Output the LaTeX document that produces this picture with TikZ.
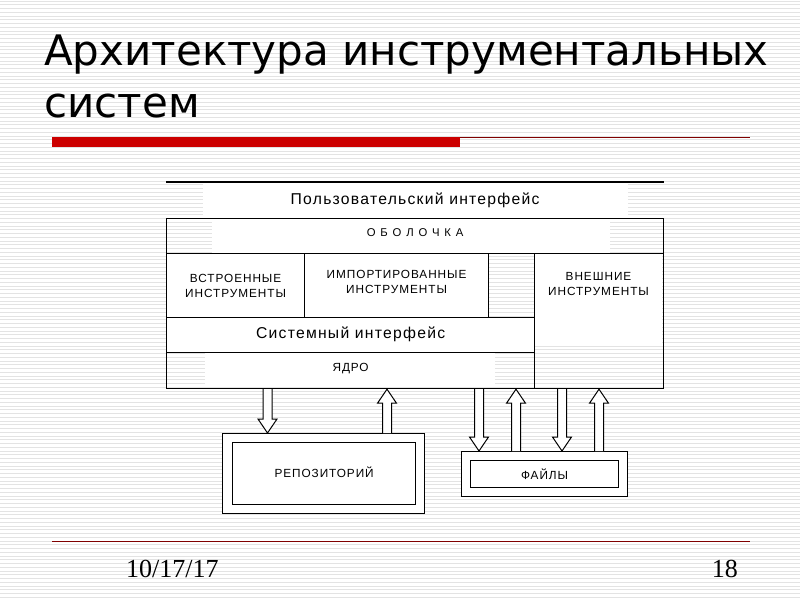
\documentclass[tikz,border=0pt]{standalone}
\usepackage{fontspec}
\setmainfont{Liberation Serif}
\newfontfamily\titlefont{DejaVu Sans}
\newfontfamily\boxfont[LetterSpace=8]{Liberation Sans}
\usetikzlibrary{calc}

\definecolor{barred}{HTML}{CC0000}
\definecolor{linered}{HTML}{800000}

% hollow block arrow, #1 = base, #2 = tip (vertical only)
\newcommand\blockarrow[2]{%
  \draw[blockarrow] let \p1=#1, \p2=#2, \n1={sign(\y2-\y1)} in
    (\x1-4.5pt,\y1) -- (\x1-4.5pt,\y2-14pt*\n1) -- (\x1-9.5pt,\y2-14pt*\n1)
    -- (\x1,\y2) -- (\x1+9.5pt,\y2-14pt*\n1) -- (\x1+4.5pt,\y2-14pt*\n1)
    -- (\x1+4.5pt,\y1);}

\begin{document}
\begin{tikzpicture}[x=1pt, y=-1pt,
    stripe/.style={draw=gray!22, line width=0.9pt},
    box/.style={draw, line width=1.2pt, inner sep=0pt, align=center, anchor=north west},
    bigtext/.style={font=\boxfont\fontsize{15.7}{18}\selectfont},
    smalltext/.style={font=\boxfont\fontsize{11.8}{15}\selectfont},
    titletext/.style={anchor=base west, inner sep=0pt, font=\titlefont\fontsize{42}{50}\selectfont},
    foottext/.style={inner sep=0pt, font=\fontsize{26}{30}\selectfont},
    blockarrow/.style={draw, fill=white, line width=1pt, line join=miter}]
  \useasboundingbox (0,0) rectangle (800,600);
  % background
  \foreach \k in {0,...,160}
    \draw[stripe] (0,\k*3.75+1) -- (800,\k*3.75+1);

  % title
  \node[titletext] (title) at (44,65) {Архитектура инструментальных};
  \node[titletext] (title2) at (44,117) {систем};
  \fill[barred] (52,137) rectangle (460,147);
  \draw[linered, line width=1pt] (460,137.5) -- (750,137.5);

  % white patches under the labels
  \fill[white] (212,219) rectangle (610,253);
  \fill[white] (535,254) rectangle (662,345);
  \fill[white] (205,353) rectangle (495,387);

  % layers
  \node[box, draw=none, fill=white, minimum width=425, minimum height=35, text depth=2pt, bigtext] (ui) at (202,182) {Пользовательский интерфейс};
  \node[box, minimum width=497, minimum height=35, text depth=7pt, font=\boxfont\fontsize{11.3}{12}\selectfont\addfontfeature{LetterSpace=15}] (shell) at (166,218) {О Б О Л О Ч К А};
  \draw[line width=1.2pt] (ui.north -| shell.west) -- (ui.north -| shell.east);
  \node[box, fill=white, minimum width=138, minimum height=64, smalltext] (builtin) at (166,253) {ВСТРОЕННЫЕ\\ИНСТРУМЕНТЫ};
  \node[box, fill=white, minimum width=184, minimum height=64, text depth=8pt, smalltext] (imported) at (304,253) {ИМПОРТИРОВАННЫЕ\\ИНСТРУМЕНТЫ};
  \node[box, minimum width=129, minimum height=135] (external) at (534,253) {};
  \node[smalltext, align=center] (externaltext) at (598.5,283.5) {ВНЕШНИЕ\\ИНСТРУМЕНТЫ};
  \node[box, fill=white, minimum width=368, minimum height=35, text depth=4pt, bigtext] (sysif) at (166,317) {Системный интерфейс};
  \node[box, minimum width=368, minimum height=36, text depth=6pt, smalltext] (kernel) at (166,352) {ЯДРО};

  % storage
  \node[box, fill=white, minimum width=202, minimum height=80] (repoframe) at (222,433) {};
  \node[box, minimum width=183, minimum height=62, text depth=3pt, smalltext] (repo) at (232,442) {РЕПОЗИТОРИЙ};
  \node[box, fill=white, minimum width=166, minimum height=45] (filesframe) at (461,451) {};
  \node[box, minimum width=148, minimum height=27, smalltext] (files) at (470,460) {ФАЙЛЫ};

  % data flow
  \blockarrow{(267.5,0 |- kernel.south)}{(267.5,0 |- repoframe.north)}
  \blockarrow{(387,0 |- repoframe.north)}{(387,0 |- kernel.south)}
  \blockarrow{(479,0 |- kernel.south)}{(479,0 |- filesframe.north)}
  \blockarrow{(516,0 |- filesframe.north)}{(516,0 |- kernel.south)}
  \blockarrow{(562,0 |- external.south)}{(562,0 |- filesframe.north)}
  \blockarrow{(599,0 |- filesframe.north)}{(599,0 |- external.south)}

  % footer
  \draw[linered, line width=0.9pt] (52,541) -- (750,541);
  \node[foottext, anchor=base west] (date) at (126,577) {10/17/17};
  \node[foottext, anchor=base east] (page) at (738,577) {18};
\end{tikzpicture}
\end{document}
